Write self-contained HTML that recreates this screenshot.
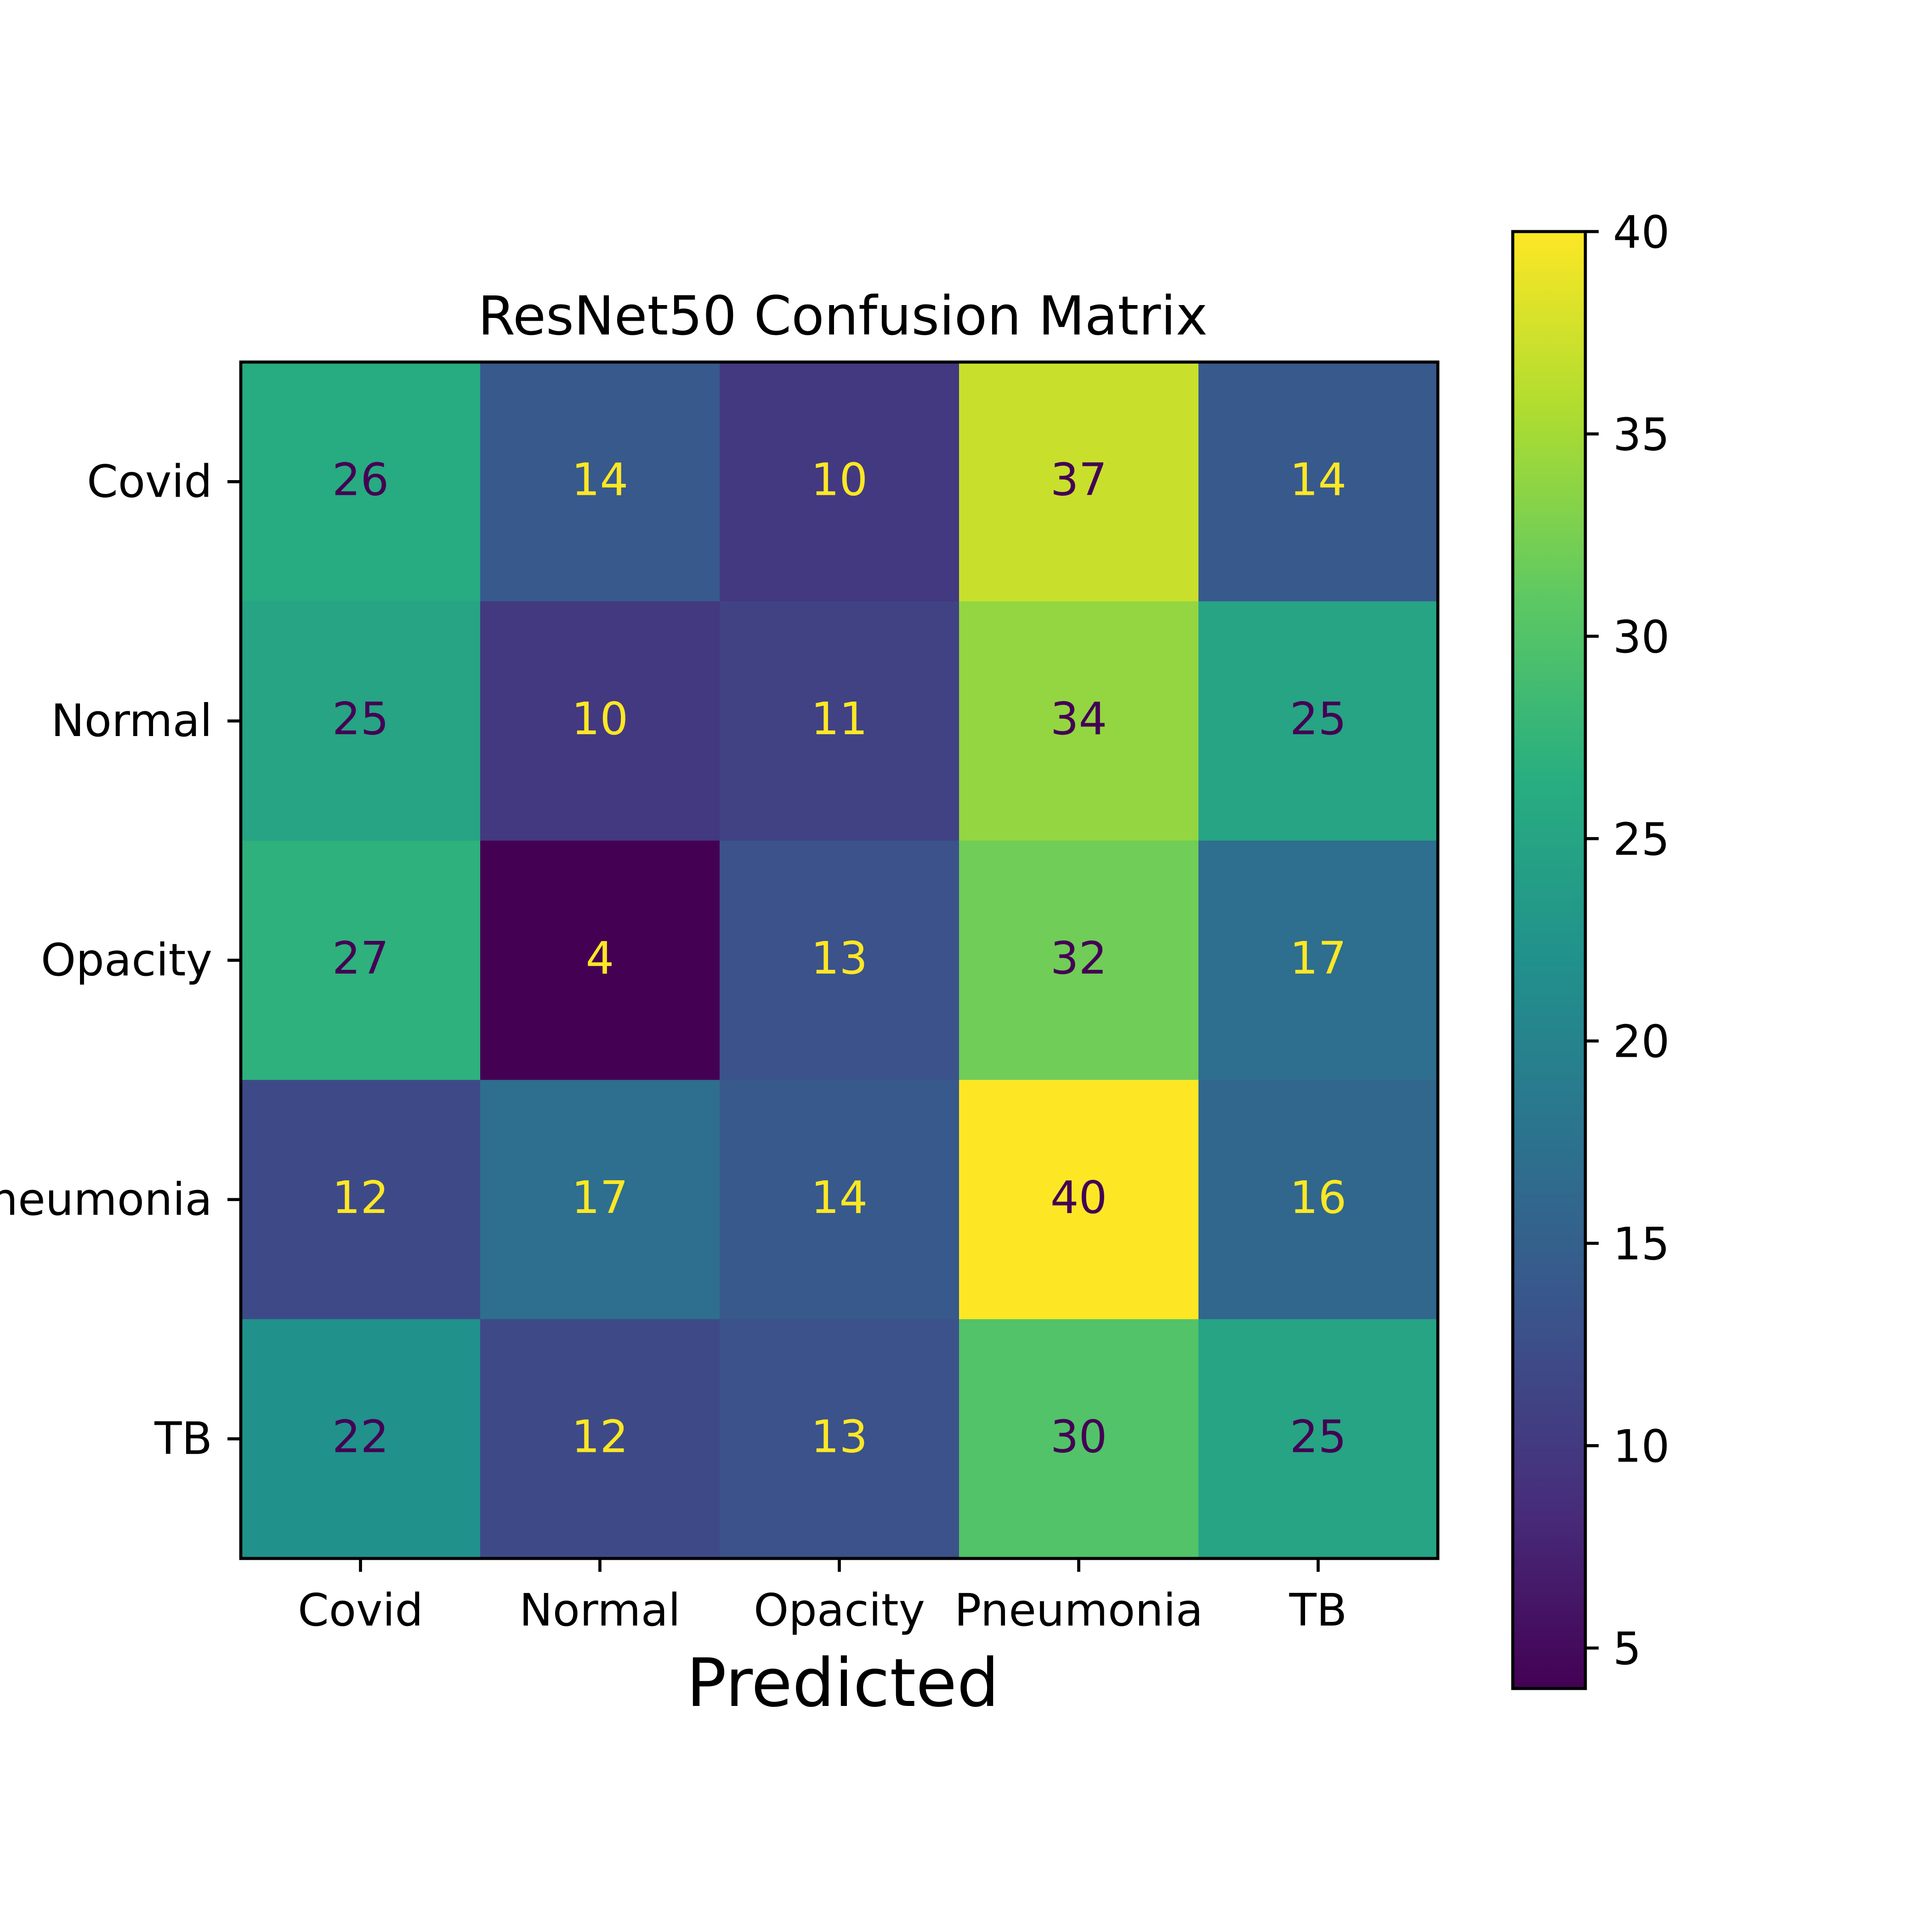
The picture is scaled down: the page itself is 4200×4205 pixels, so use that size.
<!DOCTYPE html>
<html><head><meta charset="utf-8"><style>
html,body{margin:0;padding:0;background:#fff;}
svg text{font-family:"DejaVu Sans","Liberation Sans",sans-serif;}
</style></head><body>
<svg id="chart" width="4200" height="4200" viewBox="0 0 4200 4200" xmlns="http://www.w3.org/2000/svg">
<rect width="4200" height="4200" fill="#fff"/>
<defs>
<linearGradient id="vir" x1="0" y1="1" x2="0" y2="0">
<stop offset="0" stop-color="#440154"/><stop offset="0.125" stop-color="#472d7b"/><stop offset="0.25" stop-color="#3b528b"/><stop offset="0.375" stop-color="#2c728e"/><stop offset="0.5" stop-color="#21918c"/><stop offset="0.625" stop-color="#28ae80"/><stop offset="0.75" stop-color="#5ec962"/><stop offset="0.875" stop-color="#addc30"/><stop offset="1" stop-color="#fde725"/>
</linearGradient>
</defs>
<g id="cells"></g>
<g id="axes"></g>
<text x="1834" y="728" font-size="117" text-anchor="middle">ResNet50 Confusion Matrix</text>
<text x="1834" y="3713" font-size="145" text-anchor="middle">Predicted</text>
</svg>
<script>
const categories = ["Covid","Normal","Opacity","Pneumonia","TB"];
const rowCovid = [26,14,10,37,14];
const rowNormal = [25,10,11,34,25];
const rowOpacity = [27,4,13,32,17];
const rowPneumonia = [12,17,14,40,16];
const rowTB = [22,12,13,30,25];
const matrix = [rowCovid,rowNormal,rowOpacity,rowPneumonia,rowTB];
const colorbarTicks = [5,10,15,20,25,30,35,40];
const vmin = 4, vmax = 40;

const NS = "http://www.w3.org/2000/svg";
const L = 524, T = 788, W = 2605, H = 2604;
const n = categories.length;
const cw = W / n, ch = H / n;
const xPos = i => L + i * cw;
const yPos = j => T + j * ch;
const CBX = 3292, CBW = 158, CBT = 504, CBB = 3675;
const cbY = v => CBB - (v - vmin) / (vmax - vmin) * (CBB - CBT);

const stops = ["#440154","#472d7b","#3b528b","#2c728e","#21918c","#28ae80","#5ec962","#addc30","#fde725"];
function hex(h){return [1,3,5].map(k=>parseInt(h.substr(k,2),16));}
function viridis(v){
  let t = Math.max(0, Math.min(1, (v - vmin) / (vmax - vmin)));
  let p = t * (stops.length - 1), i = Math.min(Math.floor(p), stops.length - 2), f = p - i;
  const a = hex(stops[i]), b = hex(stops[i+1]);
  return "rgb(" + a.map((c,k)=>Math.round(c + (b[k]-c)*f)).join(",") + ")";
}
function mk(tag, attrs, parent){
  const e = document.createElementNS(NS, tag);
  for (const k in attrs) e.setAttribute(k, attrs[k]);
  parent.appendChild(e);
  return e;
}
const cells = document.getElementById("cells");
const axes = document.getElementById("axes");
const mid = (vmin + vmax) / 2;
matrix.forEach((row, j) => {
  row.forEach((v, i) => {
    const r = mk("rect", {x: xPos(i), y: yPos(j), width: cw + 0.5, height: ch + 0.5, fill: viridis(v)}, cells);
    
    
    const t = mk("text", {x: xPos(i) + cw/2, y: yPos(j) + ch/2 + 29, "font-size": 97, "text-anchor": "middle", fill: v >= mid ? "#440154" : "#fde725"}, cells);
    t.textContent = v;
    
    
  });
});
const frame = mk("rect", {x: L, y: T, width: W, height: H, fill: "none", stroke: "#000", "stroke-width": 6.7}, axes);


categories.forEach((c, i) => {
  const cx = xPos(i) + cw/2;
  const tk = mk("line", {x1: cx, y1: T + H, x2: cx, y2: T + H + 29, stroke: "#000", "stroke-width": 6.7}, axes);
  
  
  const tl = mk("text", {x: cx, y: T + H + 146, "font-size": 97, "text-anchor": "middle"}, axes);
  tl.textContent = c;
  
  
  const cy = yPos(i) + ch/2;
  const yk = mk("line", {x1: L - 29, y1: cy, x2: L, y2: cy, stroke: "#000", "stroke-width": 6.7}, axes);
  
  
  const yl = mk("text", {x: L - 62, y: cy + 33, "font-size": 97, "text-anchor": "end"}, axes);
  yl.textContent = c;
  
  
});
const cb = mk("rect", {x: CBX, y: CBT, width: CBW, height: CBB - CBT, fill: "url(#vir)", stroke: "#000", "stroke-width": 6.7}, axes);


colorbarTicks.forEach(v => {
  const y = cbY(v);
  const k = mk("line", {x1: CBX + CBW, y1: y, x2: CBX + CBW + 29, y2: y, stroke: "#000", "stroke-width": 6.7}, axes);
  
  
  const l = mk("text", {x: CBX + CBW + 60, y: y + 35, "font-size": 97}, axes);
  l.textContent = v;
  
  
});
</script>
</body></html>
